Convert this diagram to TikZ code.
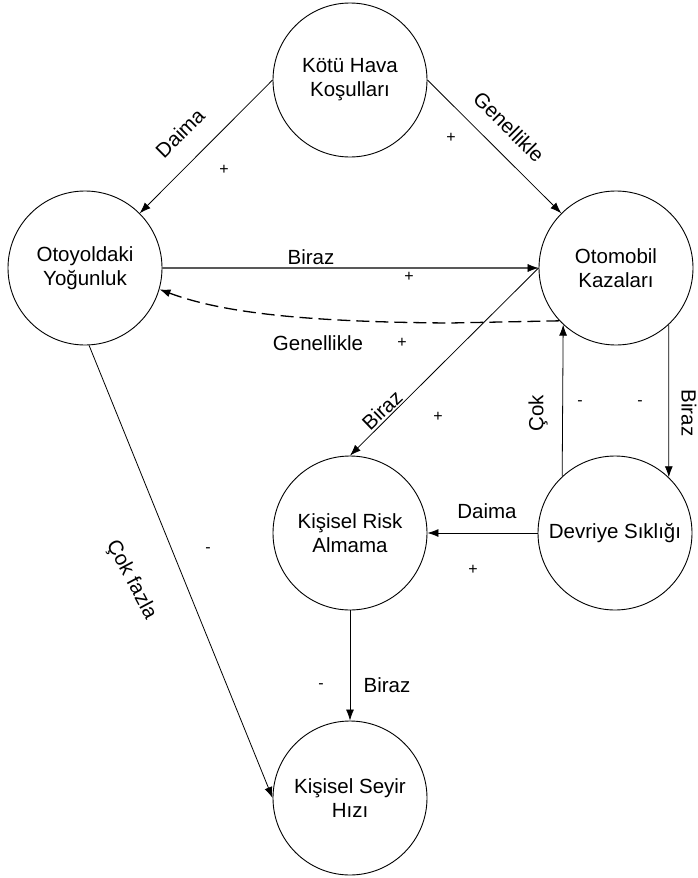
\documentclass[tikz,border=0pt]{standalone}
\usepackage{fontspec}
\setmainfont{Liberation Sans}
\usetikzlibrary{arrows.meta}
\begin{document}
\begin{tikzpicture}[x=1pt,y=-1pt,
  state/.style={draw,circle,minimum size=154pt,inner sep=0pt,line width=0.9pt,align=center,font=\fontsize{20.5}{24}\selectfont},
  conn/.style={line width=0.8pt,-{Latex[length=11pt,width=8pt]}},
  lbl/.style={font=\fontsize{20.5}{24}\selectfont,inner sep=0pt},
  sgn/.style={font=\fontsize{16}{18}\selectfont,inner sep=0pt}]
\useasboundingbox (0,0) rectangle (697,878);
\node[state] (kotu) at (350,80) {Kötü Hava\\Koşulları};
\node[state] (otoyol) at (85,268) {Otoyoldaki\\Yoğunluk};
\node[state] (otomobil) at (616,268) {Otomobil\\Kazaları};
\node[state] (risk) at (350,533) {Kişisel Risk\\Almama};
\node[state] (devriye) at (615,533) {Devriye Sıklığı};
\node[state] (seyir) at (350,798) {Kişisel Seyir\\Hızı};
% connectors
\draw[conn] (kotu.west) -- (otoyol.45);
\draw[conn] (kotu.east) -- (otomobil.135);
\draw[line width=1.8pt,draw=black!65,-{Latex[length=11pt,width=8pt,color=black,fill=black,line width=0.5pt]}] (otoyol.east) -- (otomobil.west);
\coordinate (dmid) at (450,323);
\draw[conn,dash pattern=on 13pt off 6pt,line width=1.3pt] (otomobil.223) -- (dmid) .. controls (300,322) and (220,312) .. (otoyol.344);
\draw[conn] (otomobil.west) -- (risk.north);
\draw[conn] (devriye.133) -- (otomobil.227);
\draw[conn] (otomobil.313) -- (devriye.46);
\draw[conn] (devriye.west) -- (risk.east);
\draw[conn] (risk.south) -- (seyir.north);
\draw[conn] (otoyol.273) -- (seyir.west);
% labels
\node[lbl,rotate=45] (l1) at (180,133) {Daima};
\node[sgn] (s1) at (224,170) {+};
\node[lbl,rotate=-45] (l2) at (509,127) {Genellikle};
\node[sgn] (s2) at (451,138) {+};
\node[lbl] (l3) at (311,257) {Biraz};
\node[sgn] (s3) at (409,277) {+};
\node[lbl] (l4) at (318,343) {Genellikle};
\node[sgn] (s4) at (402,343) {+};
\node[lbl,rotate=44] (l5) at (382,410) {Biraz};
\node[sgn] (s5) at (438,417) {+};
\node[lbl,rotate=90] (l6) at (538,413) {Çok};
\node[sgn] (s6) at (580,403) {-};
\node[sgn] (s7) at (640,403) {-};
\node[lbl,rotate=-90] (l7) at (689,413) {Biraz};
\node[lbl] (l8) at (487,511) {Daima};
\node[sgn] (s8) at (473,570) {+};
\node[lbl] (l9) at (387,685) {Biraz};
\node[sgn] (s9) at (321,686) {-};
\node[lbl,rotate=-62] (l10) at (131,580) {Çok fazla};
\node[sgn] (s10) at (208,550) {-};
\end{tikzpicture}
\end{document}
